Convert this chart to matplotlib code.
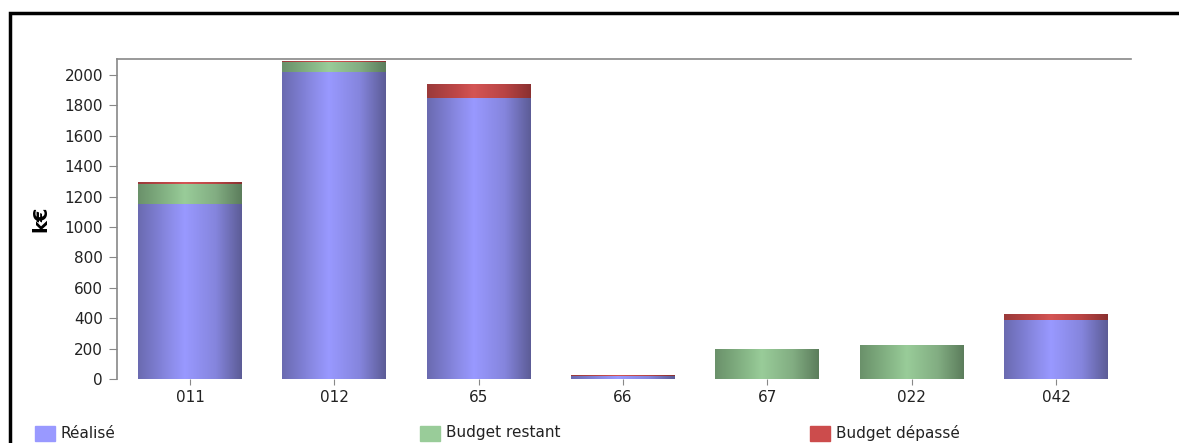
import matplotlib.pyplot as plt
from matplotlib.patches import Rectangle
from matplotlib.colors import LinearSegmentedColormap
import numpy as np

plt.rcParams['font.family'] = ['DejaVu Sans']

categories = ['011', '012', '65', '66', '67', '022', '042']
realise = [1150, 2020, 1850, 20, 3, 3, 390]
budget_restant = [130, 65, 0, 0, 192, 218, 0]
budget_depasse = [15, 8, 90, 6, 4, 4, 35]

series_names = ['Réalisé', 'Budget restant', 'Budget dépassé']
base_colors = ['#9999ff', '#99cc99', '#cc4c4c']
# cylinder shading: dark left, light near centre, darker right
shades = {
    '#9999ff': ['#6a6ab0', '#8a8ae6', '#9999ff', '#8585dd', '#5c5c96'],
    '#99cc99': ['#6a916a', '#88b888', '#99cc99', '#82ad82', '#5c7d5c'],
    '#cc4c4c': ['#9a3a3a', '#c04848', '#d45555', '#b84444', '#8a3030'],
}

fig = plt.figure(figsize=(11.79, 4.43), dpi=100)
ax = fig.add_axes([117 / 1179, 1 - 379 / 443, (1131 - 117) / 1179, (379 - 59) / 443])

x = np.arange(len(categories))
width = 0.72
bottom = np.zeros(len(categories))
grad = np.linspace(0, 1, 256).reshape(1, -1)
for vals, col in zip([realise, budget_restant, budget_depasse], base_colors):
    cmap = LinearSegmentedColormap.from_list(col, list(zip([0, 0.3, 0.45, 0.75, 1.0], shades[col])))
    bars = ax.bar(x, vals, width, bottom=bottom, color=col, linewidth=0)
    for b in bars:
        if b.get_height() <= 0:
            continue
        x0, y0 = b.get_x(), b.get_y()
        im = ax.imshow(grad, cmap=cmap, aspect='auto', interpolation='bicubic',
                       extent=[x0, x0 + b.get_width(), y0, y0 + b.get_height()], zorder=2)
        im.set_clip_path(b)
    bottom += np.array(vals)

ax.set_xlim(-0.506, 6.52)
ax.set_ylim(0, 2105)
ax.set_yticks(range(0, 2001, 200))
ax.set_xticks(x)
ax.set_xticklabels(categories)
ax.tick_params(axis='y', colors='#888888', labelcolor='#222222', labelsize=11, length=6, pad=4)
ax.tick_params(axis='x', colors='#888888', labelcolor='#222222', labelsize=11, length=4, pad=4)
for side in ['right', 'bottom']:
    ax.spines[side].set_visible(False)
for side in ['left', 'top']:
    ax.spines[side].set_color('#888888')
    ax.spines[side].set_linewidth(1.2)
ax.set_ylabel('k€', fontsize=14, fontweight='bold', labelpad=10)

# legend along the bottom
leg_x = [35, 420, 810]
for lx, name, col in zip(leg_x, series_names, base_colors):
    fig.patches.append(Rectangle((lx / 1179, 1 - 441 / 443), 20 / 1179, 15 / 443,
                                 transform=fig.transFigure, color=col, figure=fig))
    fig.text((lx + 26) / 1179, 1 - 433 / 443, name, fontsize=11, color='#222222', va='center')

# outer frame
fig.patches.append(Rectangle((10 / 1179, -0.05), 1.2, 1 - 13 / 443 + 0.05, transform=fig.transFigure,
                             fill=False, edgecolor='black', linewidth=2.5, figure=fig))

fig.savefig('out.png', dpi=100)
